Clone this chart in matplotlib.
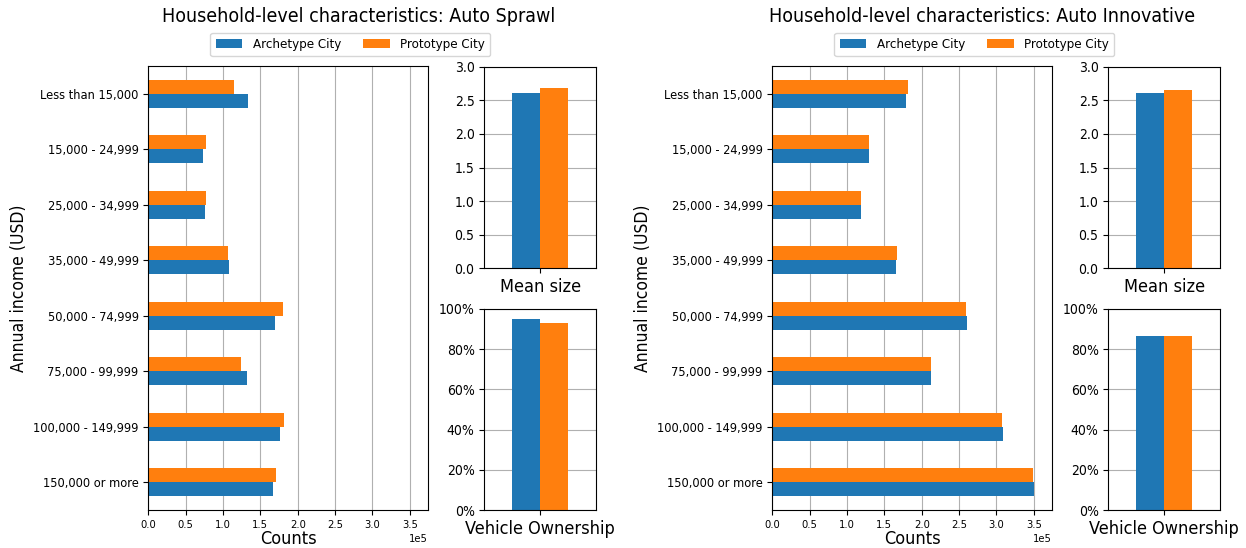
import numpy as np
from matplotlib import pyplot as plt
from matplotlib.ticker import PercentFormatter

## Household income distribution (counts), top row first
income_labels = ["Less than 15,000", "15,000 - 24,999", "25,000 - 34,999", "35,000 - 49,999",
                 "50,000 - 74,999", "75,000 - 99,999", "100,000 - 149,999", "150,000 or more"]

sprawl_archetype = [133700, 73800, 76400, 107700, 169400, 131900, 176100, 166300]
sprawl_prototype = [115300, 77300, 77300, 106400, 180000, 124700, 181900, 170300]
innov_archetype = [179400, 129100, 119300, 165600, 260000, 211900, 308500, 350000]
innov_prototype = [182100, 129100, 119300, 167000, 259100, 212800, 307200, 348600]

## Mean household size and vehicle ownership share
sprawl_size = [2.61, 2.68]
innov_size = [2.61, 2.65]
sprawl_veh = [0.952, 0.932]
innov_veh = [0.867, 0.867]

series_names = ['Archetype City', 'Prototype City']
c_arch = '#1f77b4'
c_proto = '#ff7f0e'

plt.rcParams['font.stretch'] = 'condensed'

W, H = 1246., 548.


def box(x0, x1, y0, y1):
    # pixel box -> figure fraction
    return [x0 / W, 1 - y1 / H, (x1 - x0) / W, (y1 - y0) / H]


def panel(fig, x0, title, arch, proto, size, veh):
    ax = fig.add_axes(box(x0, x0 + 279.4, 66, 510))
    y = np.arange(len(income_labels))[::-1]
    b1 = ax.barh(y - 0.125, arch, 0.25, color=c_arch)
    b2 = ax.barh(y + 0.125, proto, 0.25, color=c_proto)
    ax.set_yticks(y)
    ax.set_yticklabels(income_labels, fontsize=9.2)
    ax.set_ylim(-0.5, 7.5)
    ax.set_xlim(0, 3.74e5)
    ax.set_xticks(np.arange(0, 3.6e5, 0.5e5))
    ax.ticklabel_format(axis='x', style='sci', scilimits=(0, 0))
    ax.tick_params(axis='x', labelsize=8)
    ax.xaxis.get_offset_text().set_fontsize(8)
    ax.grid(axis='x', color='#b0b0b0')
    ax.set_axisbelow(True)
    ax.set_xlabel('Counts', fontsize=13, labelpad=0)
    ax.set_ylabel('Annual income (USD)', fontsize=12.5)

    ax2 = fig.add_axes(box(x0 + 336, x0 + 448, 66.7, 268.3))
    ax2.bar([-0.125], size[0], 0.25, color=c_arch)
    ax2.bar([0.125], size[1], 0.25, color=c_proto)
    ax2.set_xlim(-0.5, 0.5)
    ax2.set_ylim(0, 3.0)
    ax2.set_xticks([0])
    ax2.set_xticklabels(['Mean size'], fontsize=13)
    ax2.grid(axis='y', color='#b0b0b0')
    ax2.set_axisbelow(True)

    ax3 = fig.add_axes(box(x0 + 336, x0 + 448, 309, 510))
    ax3.bar([-0.125], veh[0], 0.25, color=c_arch)
    ax3.bar([0.125], veh[1], 0.25, color=c_proto)
    ax3.set_xlim(-0.5, 0.5)
    ax3.set_ylim(0, 1.0)
    ax3.yaxis.set_major_formatter(PercentFormatter(1.0, decimals=0))
    ax3.set_xticks([0])
    ax3.set_xticklabels(['Vehicle Ownership'], fontsize=13)
    ax3.grid(axis='y', color='#b0b0b0')
    ax3.set_axisbelow(True)

    cx = (x0 + x0 + 448) / 2.
    fig.text((cx - 14) / W, 1 - 17 / H, title, fontsize=14, ha='center', va='center')
    fig.legend([b1, b2], series_names, ncol=2, fontsize=9.5, loc='center',
               columnspacing=1.7, bbox_to_anchor=((cx - 22) / W, 1 - 44.5 / H))


fig = plt.figure(figsize=(12.46, 5.48), dpi=100)
panel(fig, 148.3, 'Household-level characteristics: Auto Sprawl',
      sprawl_archetype, sprawl_prototype, sprawl_size, sprawl_veh)
panel(fig, 772.3, 'Household-level characteristics: Auto Innovative',
      innov_archetype, innov_prototype, innov_size, innov_veh)

plt.savefig('out.png', dpi=100)
plt.close()
